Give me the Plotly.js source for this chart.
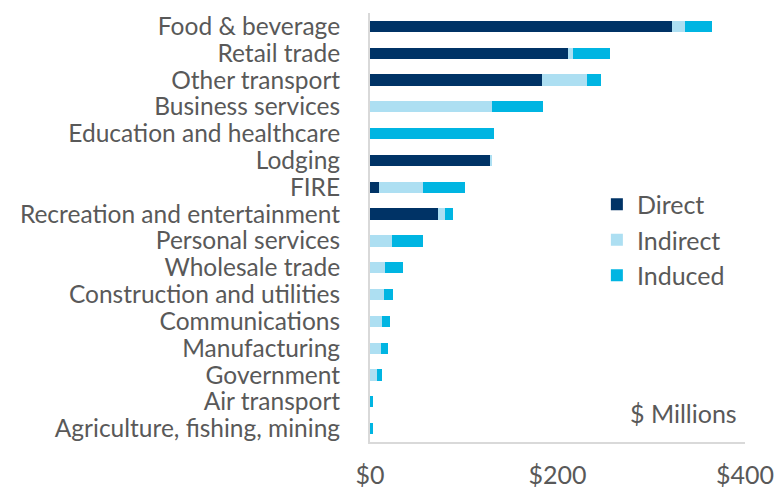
<!DOCTYPE html>
<html>
<head>
<meta charset="utf-8">
<script src="https://cdn.plot.ly/plotly-3.0.1.min.js"></script>
<style>
  html, body { margin: 0; padding: 0; background: #fff; }
  #plot { width: 777px; height: 489px; }
</style>
</head>
<body>
<div id="plot"></div>
<script>
// sectors, top to bottom
let sectors = ['Food & beverage', 'Retail trade', 'Other transport', 'Business services',
  'Education and healthcare', 'Lodging', 'FIRE', 'Recreation and entertainment',
  'Personal services', 'Wholesale trade', 'Construction and utilities', 'Communications',
  'Manufacturing', 'Government', 'Air transport', 'Agriculture, fishing, mining'];

// $ millions
let direct   = [322.5, 211.5, 183, 0, 0, 128, 9.5, 72.5, 0, 0, 0, 0, 0, 0, 0, 0];
let indirect = [13.5, 5.5, 48, 130, 0.5, 1.5, 47.5, 8, 23.5, 15.5, 14.5, 12.5, 11.5, 7.5, 0.5, 0.5];
let induced  = [28.5, 39, 15.5, 55, 131.5, 0, 44.5, 8.5, 32.5, 19.5, 10, 8.5, 8, 5, 2.5, 2.5];

let seriesNames = ['Direct', 'Indirect', 'Induced'];
let seriesColors = ['#003366', '#addff2', '#00b5e2'];

let plot = document.getElementById('plot');

const makeTrace = (vals, i) => ({
  type: 'bar',
  orientation: 'h',
  y: sectors,
  x: vals,
  name: seriesNames[i],
  marker: {color: seriesColors[i], line: {width: 0}},
  hoverinfo: 'x+name'
});

let data = [direct, indirect, induced].map(makeTrace);

let layout = {
  width: 777,
  height: 489,
  barmode: 'stack',
  bargap: 0.58,
  margin: {l: 370, r: 32, t: 13, b: 47},
  paper_bgcolor: '#ffffff',
  plot_bgcolor: '#ffffff',
  font: {family: 'Lato, "Open Sans", sans-serif', size: 25, color: '#595959'},
  showlegend: true,
  legend: {
    x: 0.605, y: 0.607, xanchor: 'left', yanchor: 'top',
    traceorder: 'normal',
    font: {size: 25, color: '#595959'},
    bgcolor: 'rgba(0,0,0,0)'
  },
  xaxis: {
    range: [0, 400],
    dtick: 200,
    tickprefix: '$',
    showgrid: false,
    zeroline: false,
    showline: true,
    linecolor: '#d9d9d9',
    linewidth: 2,
    ticks: '',
    ticklabelstandoff: 10,
    tickfont: {size: 25, color: '#595959'}
  },
  yaxis: {
    autorange: 'reversed',
    tickmode: 'array',
    tickvals: sectors,
    showgrid: false,
    zeroline: false,
    showline: true,
    linecolor: '#d9d9d9',
    linewidth: 2,
    ticks: '',
    ticklabelstandoff: 23,
    tickfont: {size: 24.5, color: '#595959'}
  },
  annotations: [{
    text: '$ Millions',
    xref: 'paper', yref: 'paper',
    x: 0.983, y: 0.068,
    xanchor: 'right', yanchor: 'middle',
    showarrow: false,
    font: {size: 25, color: '#595959'}
  }]
};

Plotly.newPlot(plot, data, layout, {displayModeBar: false});
</script>
</body>
</html>
